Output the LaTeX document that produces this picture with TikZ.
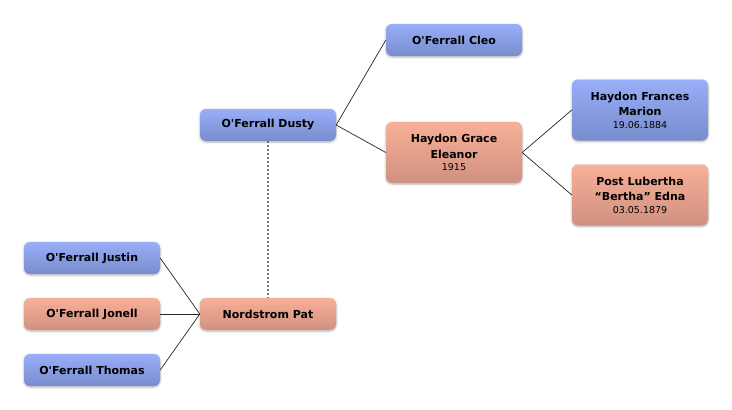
\documentclass[tikz,border=0pt]{standalone}
\usepackage{fontspec}
\setmainfont{DejaVu Sans}
\usetikzlibrary{shadows.blur}
\newcommand{\apo}{\textquotesingle}
\tikzset{
  person/.style={rounded corners=6pt, minimum width=136pt, minimum height=32pt,
    align=center, inner sep=2pt, font=\fontsize{11}{15.5}\selectfont\bfseries,
    blur shadow={shadow xshift=0pt, shadow yshift=-1pt, shadow blur steps=6, shadow opacity=30}},
  male/.style={person, top color={rgb,255:red,152;green,174;blue,248}, bottom color={rgb,255:red,120;green,140;blue,205}},
  female/.style={person, top color={rgb,255:red,248;green,176;blue,152}, bottom color={rgb,255:red,208;green,144;blue,128}},
  tall/.style={minimum height=61pt}
}
\newcommand{\dtxt}[1]{{\fontsize{9.5}{11}\selectfont\mdseries #1}}
\begin{document}
\begin{tikzpicture}[x=1pt,y=-1pt]
      \useasboundingbox (0,0) rectangle (732,410);
      \draw[draw=none]
        (454,40) node[male] (cleo){O\apo Ferrall Cleo}
        (268,125) node[male] (dusty){O\apo Ferrall Dusty}
        (454,152.5) node[female,tall] (grace){Haydon Grace\\Eleanor\\[-3pt]\dtxt{1915}}
        (640,110) node[male,tall] (frances){Haydon Frances\\Marion\\[-3pt]\dtxt{19.06.1884}}
        (640,195) node[female,tall] (post){Post Lubertha\\``Bertha'' Edna\\[-3pt]\dtxt{03.05.1879}}
        (92,258) node[male] (justin){O\apo Ferrall Justin}
        (92,314) node[female] (jonell){O\apo Ferrall Jonell}
        (92,370) node[male] (thomas){O\apo Ferrall Thomas}
        (268,314) node[female] (pat){Nordstrom Pat};
      \begin{scope}[-, black!85, line width=0.7pt]
        \draw (dusty.east) to (cleo.west);
        \draw (dusty.east) to (grace.west);
        \draw (grace.east) to (frances.west);
        \draw (grace.east) to (post.west);
        \draw (justin.east) to (pat.west);
        \draw (jonell.east) to (pat.west);
        \draw (thomas.east) to (pat.west);
      \end{scope}
      \draw[black!55, line width=1.2pt, dash pattern=on 2pt off 2pt] (dusty.south) to (pat.north);
    \end{tikzpicture}
\end{document}
